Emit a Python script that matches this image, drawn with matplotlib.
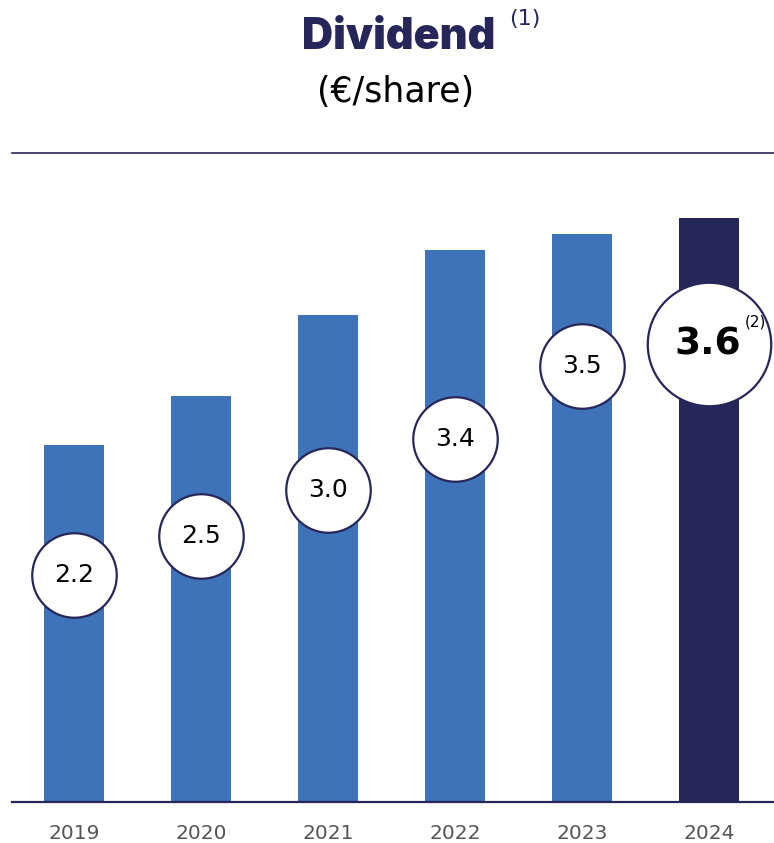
import matplotlib.pyplot as plt
import numpy as np

years = ['2019', '2020', '2021', '2022', '2023', '2024']
dividend = [2.2, 2.5, 3.0, 3.4, 3.5, 3.6]
labels = ['2.2', '2.5', '3.0', '3.4', '3.5', '3.6']
# where the value bubbles sit (data units)
bubble_y = [1.40, 1.64, 1.92, 2.24, 2.69, 2.82]

navy = '#27265a'
blue = '#3e73b9'
colors = [blue] * 5 + [navy]

fig = plt.figure(figsize=(7.74, 8.43), dpi=100)
ax = fig.add_axes([12 / 774, 1 - 802 / 843, 1 - 12 / 774, (802 - 153) / 843])
x = np.arange(len(years))
ax.bar(x, dividend, width=0.47, color=colors, zorder=2)
ax.set_xlim(-0.49, 5.51)
ax.set_ylim(0, 4.0)
ax.set_yticks([])
ax.set_xticks(x, years, fontsize=14.5, color='#555555')
ax.tick_params(axis='x', length=0, pad=16)
for s in ['left', 'right']:
    ax.spines[s].set_visible(False)
ax.spines['bottom'].set_color(navy)
ax.spines['bottom'].set_linewidth(1.6)
ax.spines['top'].set_color(navy)
ax.spines['top'].set_linewidth(1.2)

# bubbles
ax.scatter(x[:5], bubble_y[:5], s=3700, color='white', edgecolor=navy,
           linewidth=1.6, zorder=3, clip_on=False)
ax.scatter(x[5:], bubble_y[5:], s=7900, color='white', edgecolor=navy,
           linewidth=1.6, zorder=3, clip_on=False)
for i in range(5):
    ax.text(x[i], bubble_y[i], labels[i], ha='center', va='center',
            fontsize=18, color='black', zorder=4)
ax.text(x[5] - 0.01, bubble_y[5], labels[5], ha='center', va='center',
        fontsize=27, fontweight='bold', color='black', zorder=4)
ax.text(x[5] + 0.36, bubble_y[5] + 0.14, '(2)', ha='center', va='center',
        fontsize=11, color='black', zorder=4)

fig.text(399 / 774, 0.955, 'Dividend', ha='center', va='center', fontsize=31,
         fontweight='black', color=navy, family='Inter')
fig.text(509 / 774, 0.977, '(1)', ha='left', va='center', fontsize=16, color=navy)
fig.text(396 / 774, 0.891, '(€/share)', ha='center', va='center', fontsize=25,
         color='black')

fig.savefig('out.png', dpi=100)
